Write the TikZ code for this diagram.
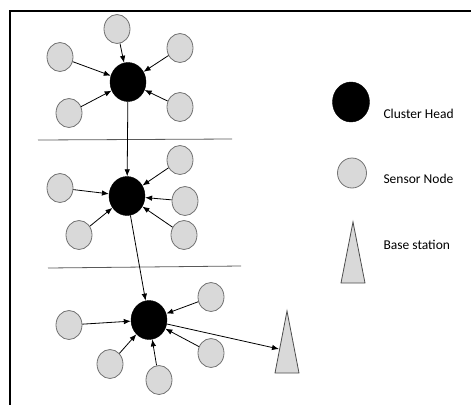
\documentclass[tikz,border=0pt]{standalone}
\usepackage{fontspec}
\setmainfont{Carlito}
\usetikzlibrary{arrows.meta}
\usetikzlibrary{shapes.geometric}

\tikzset{
  sensor/.style={ellipse,draw=black!55,fill=black!15,line width=0.8pt,minimum width=26pt,minimum height=29pt,inner sep=0pt},
  head/.style={ellipse,draw,fill=black,minimum width=36pt,minimum height=39pt,inner sep=0pt},
  link/.style={-{Latex[length=7pt,width=5.5pt]},line width=0.8pt},
  station/.style={draw=black!70,fill=black!15,line width=0.8pt},
  legend/.style={anchor=west,font=\fontsize{13.5}{16}\selectfont},
}

\begin{document}
\begin{tikzpicture}[x=1pt,y=-1pt]
	\useasboundingbox (0,0) rectangle (471,405);
	\draw[line width=2pt] (471,10.5) -- (9.5,10.5) -- (9.5,405);
	% upper cluster
	\node[head] (h1) at (128,82) {};
	\node[sensor] (a1) at (117,29) {};
	\node[sensor] (a2) at (60,57) {};
	\node[sensor] (a3) at (180,48) {};
	\node[sensor] (a4) at (69,113) {};
	\node[sensor] (a5) at (180,107) {};
	\draw[link] (a1) -- (h1);
	\draw[link] (a2) -- (h1);
	\draw[link] (a3) -- (h1);
	\draw[link] (a4) -- (h1);
	\draw[link] (a5) -- (h1);
	\draw[gray!70!black,line width=0.8pt] (38,140) -- (232,139);
	% middle cluster
	\node[head] (h2) at (127,196) {};
	\node[sensor] (b1) at (60,188) {};
	\node[sensor] (b2) at (180,160) {};
	\node[sensor] (b3) at (185,201) {};
	\node[sensor] (b4) at (79,235) {};
	\node[sensor] (b5) at (184,235) {};
	\draw[link] (h1) -- (h2);
	\draw[link] (b1) -- (h2);
	\draw[link] (b2) -- (h2);
	\draw[link] (b3) -- (h2);
	\draw[link] (b4) -- (h2);
	\draw[link] (b5) -- (h2);
	\draw[gray!70!black,line width=0.8pt] (48,268) -- (241,266);
	% lower cluster
	\node[head] (h3) at (149,320) {};
	\node[sensor] (c1) at (69,325) {};
	\node[sensor] (c2) at (211,297) {};
	\node[sensor] (c3) at (211,353) {};
	\node[sensor] (c4) at (110,364) {};
	\node[sensor] (c5) at (159,380) {};
	\draw[link] (h2) -- (h3);
	\draw[link] (c1) -- (h3);
	\draw[link] (c2) -- (h3);
	\draw[link] (c3) -- (h3);
	\draw[link] (c4) -- (h3);
	\draw[link] (c5) -- (h3);
	% base station
	\draw[station] (275,373) -- (287,311) -- (299,373) -- cycle;
	\coordinate (bs) at (279,349);
	\draw[link] (h3) -- (bs);
	% legend
	\node[head,minimum width=37pt,minimum height=40pt] (lh) at (351,102) {};
	\node[legend] (lht) at (380,114) {Cluster Head};
	\node[sensor,minimum width=29pt,minimum height=30pt] (ls) at (352,173) {};
	\node[legend] (lst) at (380,179) {Sensor Node};
	\draw[station] (341,283) -- (353,222) -- (365,283) -- cycle;
	\node[legend] (lbt) at (380,245) {Base station};
\end{tikzpicture}
\end{document}
